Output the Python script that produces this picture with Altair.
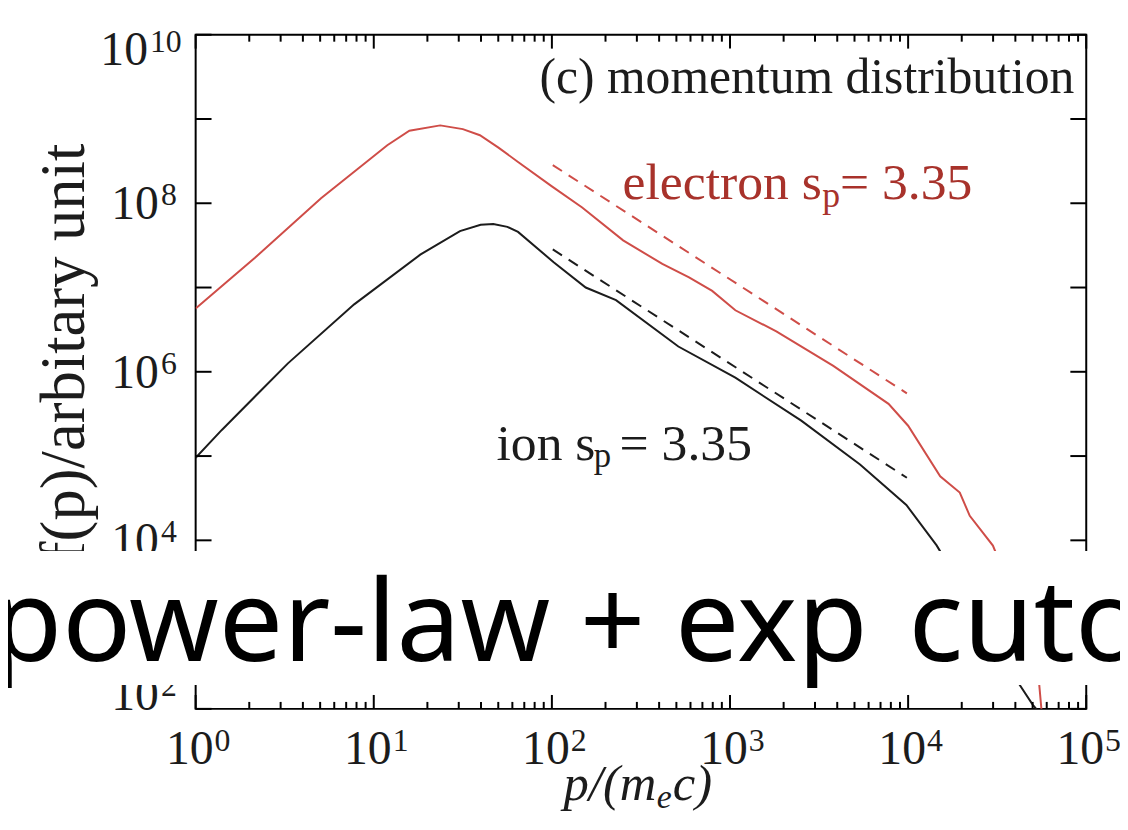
import altair as alt
import pandas as pd

# ---------------- data (log10 values) ----------------
electron_logp = [0.0, 0.333, 0.704, 1.076, 1.2, 1.373, 1.5, 1.596, 1.70, 1.81, 2.0, 2.17,
                 2.40, 2.62, 2.77, 2.90, 3.03, 3.26, 3.58, 3.89, 4.0, 4.18, 4.29, 4.346,
                 4.476, 4.56, 4.64, 4.70, 4.736, 4.749, 4.76]
electron_logf = [6.75, 7.353, 8.06, 8.689, 8.86, 8.924, 8.88, 8.807, 8.66, 8.49, 8.2, 7.95,
                 7.56, 7.28, 7.12, 6.96, 6.73, 6.48, 6.07, 5.62, 5.36, 4.76, 4.567, 4.291,
                 3.938, 3.5, 3.0, 2.6, 2.289, 1.98, 1.6]

ion_logp = [0.0, 0.147, 0.518, 0.89, 1.261, 1.484, 1.60, 1.671, 1.75, 1.81, 2.01, 2.19,
            2.36, 2.71, 3.03, 3.40, 3.73, 3.99, 4.16, 4.30, 4.45, 4.55, 4.625, 4.699,
            4.727, 4.75]
ion_logf = [4.98, 5.31, 6.10, 6.80, 7.39, 7.67, 7.745, 7.754, 7.72, 7.66, 7.30, 7.0,
            6.85, 6.30, 5.93, 5.42, 4.90, 4.42, 3.94, 3.45, 2.95, 2.62, 2.29, 2.05,
            1.98, 1.7]

fit_logp = [2.005, 3.993]
electron_fit_logf = [8.453, 5.744]
ion_fit_logf = [7.452, 4.743]

# axis ticks / labels
x_major = [1e0, 1e1, 1e2, 1e3, 1e4, 1e5]
x_major_exp = ["0", "1", "2", "3", "4", "5"]
x_minor = [k * 10 ** d for d in range(0, 5) for k in range(2, 10)]
y_major = [1e2, 1e3, 1e4, 1e5, 1e6, 1e7, 1e8, 1e9, 1e10]
y_mid_labels = [1e4, 1e6, 1e8]
y_mid_exp = ["4", "6", "8"]
y_top_label, y_top_exp = 1e10, "10"
y_bottom_label, y_bottom_exp = 1e2, "2"

# annotations and their anchors in data units (log10)
panel_label = "(c) momentum distribution"
electron_label = ["electron s", "p", "= 3.35"]
ion_label = ["ion s", "p", "= 3.35"]
note_logp = [4.933, 2.397, 1.689]
note_logf = [9.309, 8.045, 4.959]

x_title = ["p/(m", "e", "c)"]
y_title = "f(p)/arbitary unit"
overlay_text = ["power-law + exp", "cutoff"]

# ---------------- tables ----------------
def table(lp, lf):
    return pd.DataFrame({"p": [10 ** v for v in lp], "f": [10 ** v for v in lf]})

df_e = table(electron_logp, electron_logf)
df_i = table(ion_logp, ion_logf)
df_ef = table(fit_logp, electron_fit_logf)
df_if = table(fit_logp, ion_fit_logf)
df_xmaj = pd.DataFrame({"p": x_major, "exp": x_major_exp, "base": "10"})
df_xmin = pd.DataFrame({"p": x_minor})
df_ymaj = pd.DataFrame({"f": y_major})

W, H = 897, 679
SERIF = "Liberation Serif"
RED_LINE = "#cf4d48"
RED_TEXT = "#a8322b"
INK = "#1c1c1c"

xs = alt.Scale(type="log", domain=[1, 1e5], nice=False)
ys = alt.Scale(type="log", domain=[1e2, 1e10], nice=False)

x_axis = alt.Axis(labels=False, ticks=False, domain=False, grid=False, title="")
y_axis = alt.Axis(labels=False, ticks=False, domain=False, grid=False,
                  title=y_title, titleFont=SERIF, titleFontSize=63,
                  titleFontWeight="normal", titleColor=INK,
                  titleX=-100, titleY=320)

X = alt.X("p:Q", scale=xs, axis=x_axis)
Y = alt.Y("f:Q", scale=ys, axis=y_axis)


def line(df, color, dashed=False):
    kw = dict(color=color, strokeWidth=2, clip=True)
    if dashed:
        kw["strokeDash"] = [11, 8]
    return alt.Chart(df).mark_line(**kw).encode(x=X, y=Y)


electron = line(df_e, RED_LINE)
ion = line(df_i, INK)
electron_fit = line(df_ef, RED_LINE, dashed=True)
ion_fit = line(df_if, INK, dashed=True)

MAJ, MIN, YT = 14, 7, 16


def xticks(df, y0, y1):
    return alt.Chart(df).mark_rule(color="black", strokeWidth=2).encode(
        x=X, y=alt.value(y0), y2=alt.value(y1))


def yticks(x0, x1):
    return alt.Chart(df_ymaj).mark_rule(color="black", strokeWidth=2).encode(
        y=Y, x=alt.value(x0), x2=alt.value(x1))


ticks = [
    xticks(df_xmaj, H, H - MAJ), xticks(df_xmaj, 0, MAJ),
    xticks(df_xmin, H, H - MIN), xticks(df_xmin, 0, MIN),
    yticks(0, YT), yticks(W, W - YT),
]

# ---- tick labels "10" + superscript exponent ----
BASE, EXP, RAISE = 48, 32, 14
x_lab_base = alt.Chart(df_xmaj).mark_text(
    font=SERIF, fontSize=BASE, color=INK, align="right", baseline="alphabetic", dx=18
).encode(x=X, y=alt.value(H + 56), text="base:N")
x_lab_exp = alt.Chart(df_xmaj).mark_text(
    font=SERIF, fontSize=EXP, color=INK, align="left", baseline="alphabetic", dx=19
).encode(x=X, y=alt.value(H + 56 - RAISE), text="exp:N")


def ylab(values, exps, base_right, base_dy):
    df = pd.DataFrame({"f": values, "exp": exps, "base": "10"})
    b = alt.Chart(df).mark_text(
        font=SERIF, fontSize=BASE, color=INK, align="right", baseline="alphabetic", dy=base_dy
    ).encode(y=Y, x=alt.value(base_right), text="base:N")
    e = alt.Chart(df).mark_text(
        font=SERIF, fontSize=EXP, color=INK, align="left", baseline="alphabetic",
        dy=base_dy - RAISE
    ).encode(y=Y, x=alt.value(base_right + 2), text="exp:N")
    return [b, e]


y_labels = (ylab(y_mid_labels, y_mid_exp, -37, 16)
            + ylab([y_top_label], [y_top_exp], -48, 31)
            + ylab([y_bottom_label], [y_bottom_exp], -37, 1))


def note(i, text, color, align, size, dx=0, dy=0):
    df = pd.DataFrame({"p": [10 ** note_logp[i]], "f": [10 ** note_logf[i]], "label": [text]})
    return alt.Chart(df).mark_text(
        font=SERIF, fontSize=size, color=color, align=align, baseline="alphabetic",
        dx=dx, dy=dy
    ).encode(x=X, y=Y, text="label:N")


notes = [
    note(0, panel_label, INK, "right", 50),
    note(1, electron_label[0], RED_TEXT, "left", 52),
    note(1, electron_label[1], RED_TEXT, "left", 36, dx=201, dy=8),
    note(1, electron_label[2], RED_TEXT, "left", 52, dx=219),
    note(2, ion_label[0], INK, "left", 52),
    note(2, ion_label[1], INK, "left", 35, dx=98, dy=8),
    note(2, ion_label[2], INK, "left", 52, dx=124),
]


def free_text(text, x, y, size, align="left", style="normal", font=SERIF, color=INK):
    return alt.Chart(pd.DataFrame({"k": [0]})).mark_text(
        font=font, fontSize=size, color=color, align=align, baseline="alphabetic",
        fontStyle=style
    ).encode(x=alt.value(x), y=alt.value(y), text=alt.value(text))


# x-axis title p/(m_e c), centred under the plot
XT0, XT_Y = W / 2 - 78, H + 92
x_title_marks = [
    free_text(x_title[0], XT0, XT_Y, 51, style="italic"),
    free_text(x_title[1], XT0 + 94, XT_Y + 8, 34, style="italic"),
    free_text(x_title[2], XT0 + 110, XT_Y, 51, style="italic"),
]

band = alt.Chart(pd.DataFrame({"k": [0]})).mark_rect(color="white").encode(
    x=alt.value(-200), x2=alt.value(W + 40), y=alt.value(552 - 32), y2=alt.value(687 - 32))
banner = [
    free_text(overlay_text[0], -8 - 197, 663 - 32, 115, font="Noto Sans", color="black"),
    free_text(overlay_text[1], 915 - 197, 663 - 32, 115, font="Noto Sans", color="black"),
]

chart = alt.layer(
    electron, ion, electron_fit, ion_fit, *ticks, x_lab_base, x_lab_exp, *y_labels,
    *notes, *x_title_marks, band, *banner
).properties(
    width=W, height=H,
    autosize=alt.AutoSizeParams(type="none"),
    padding={"left": 189, "top": 24, "right": 34, "bottom": 106},
).configure_view(stroke="black", strokeWidth=2)

chart.save("out.html", embed_options={"renderer": "svg", "actions": False})
